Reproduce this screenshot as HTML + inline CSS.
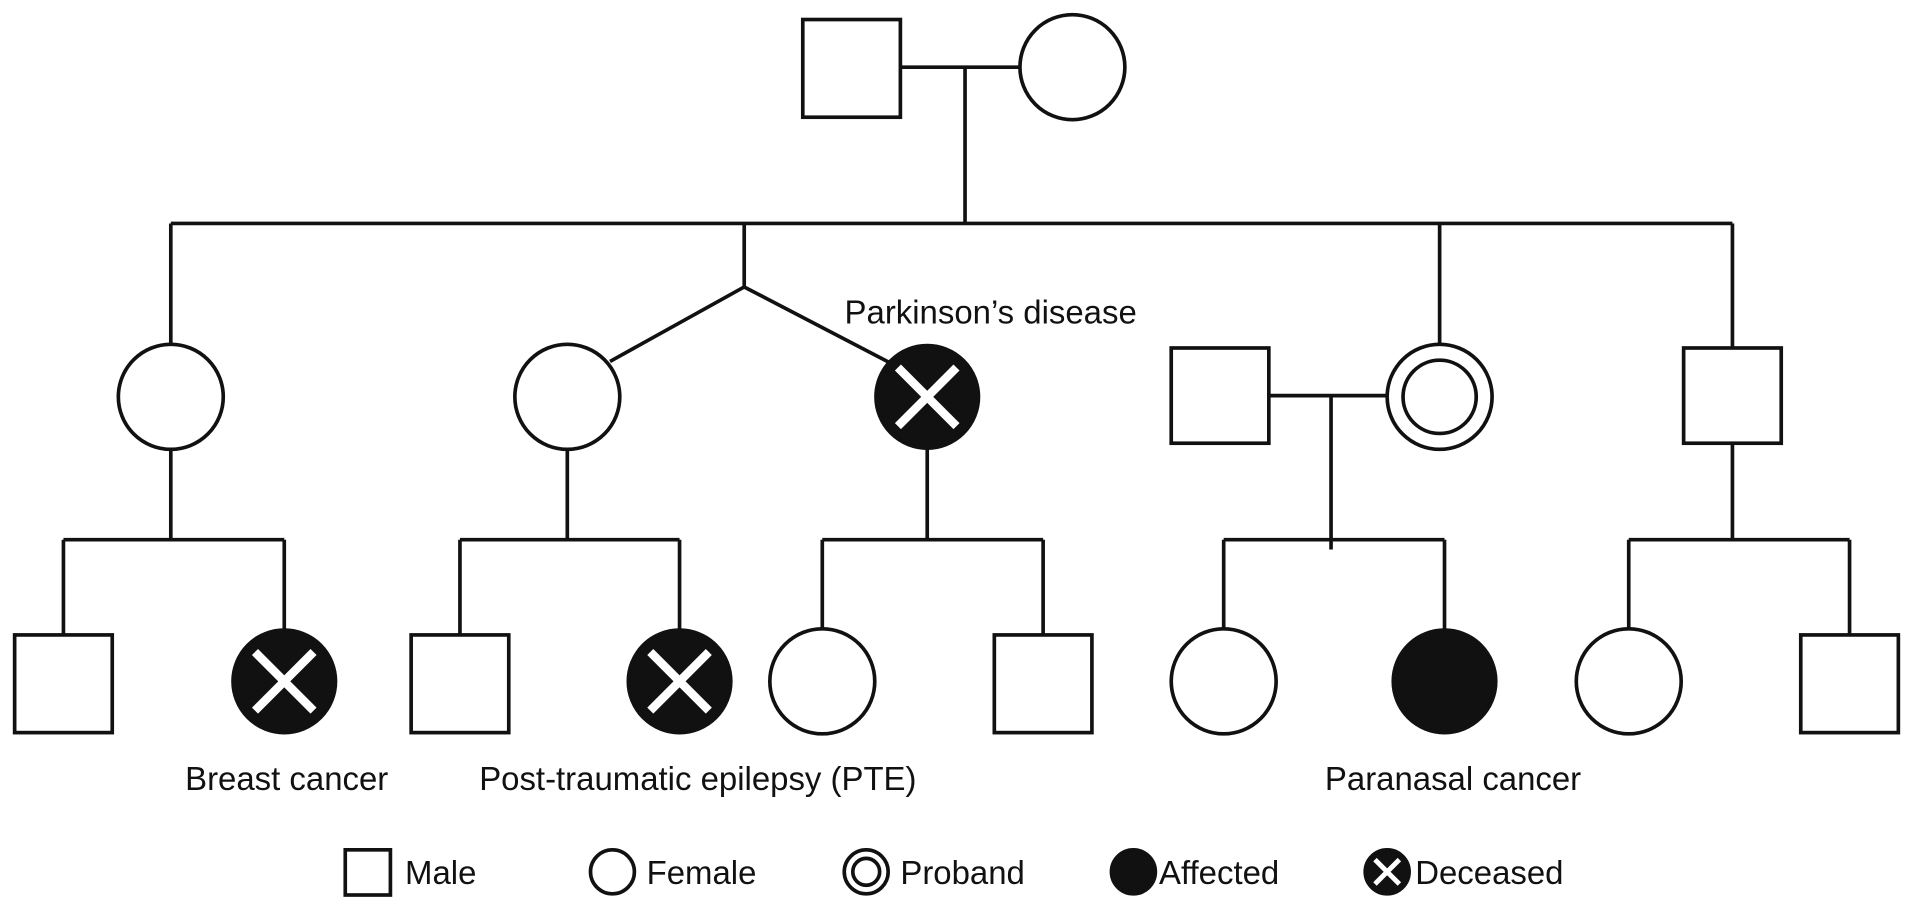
<!DOCTYPE html>
<html><head><style>html,body{margin:0;padding:0;background:#fff}svg{display:block}</style></head>
<body>
<svg width="1913" height="906" viewBox="0 0 1568 742" preserveAspectRatio="none" xmlns="http://www.w3.org/2000/svg" font-family="Liberation Sans, sans-serif" font-size="27" fill="none" stroke="#111" stroke-width="3">
<defs>
<g id="dx"><circle r="42" fill="#111"/><path d="M-24,-24L24,24M24,-24L-24,24" stroke="#fff" stroke-width="7"/></g>
</defs>
<rect x="658" y="16" width="80" height="80" fill="#fff"/>
<circle cx="879" cy="55" r="43" fill="#fff"/>
<path d="M738,55H836M791,55V183M140,183H1420M140,183V282M610,183V235L500,296M610,235L735,300M1180,183V282M1420,183V285"/>
<circle cx="140" cy="325" r="43"/>
<circle cx="465" cy="325" r="43"/>
<use href="#dx" x="760" y="325"/>
<rect x="960" y="285" width="80" height="78"/>
<circle cx="1180" cy="325" r="43"/><circle cx="1180" cy="325" r="30"/>
<rect x="1380" y="285" width="80" height="78"/>
<path d="M1040,324H1137M1091,324V450M140,368V442M465,368V442M760,368V442M1420,363V442"/>
<path d="M52,442H233M52,442V520M233,442V516M377,442H557M377,442V520M557,442V516M674,442H855M674,442V516M855,442V520M1003,442H1184M1003,442V516M1184,442V516M1335,442H1516M1335,442V516M1516,442V520"/>
<rect x="12" y="520" width="80" height="80"/>
<use href="#dx" x="233" y="558"/>
<rect x="337" y="520" width="80" height="80"/>
<use href="#dx" x="557" y="558"/>
<circle cx="674" cy="558" r="43"/>
<rect x="815" y="520" width="80" height="80"/>
<circle cx="1003" cy="558" r="43"/>
<circle cx="1184" cy="558" r="42" fill="#111"/>
<circle cx="1335" cy="558" r="43"/>
<rect x="1476" y="520" width="80" height="80"/>
<g fill="#111" stroke="none" text-anchor="middle">
<text x="812" y="265">Parkinson’s disease</text>
<text x="235" y="647">Breast cancer</text>
<text x="572" y="647">Post-traumatic epilepsy (PTE)</text>
<text x="1191" y="647">Paranasal cancer</text>
</g>
<rect x="283" y="696" width="37" height="37"/>
<circle cx="502" cy="714" r="18"/>
<circle cx="710" cy="714" r="18"/><circle cx="710" cy="714" r="11"/>
<circle cx="929" cy="714" r="18" fill="#111"/>
<circle cx="1137" cy="714" r="18" fill="#111"/>
<path d="M1127,704L1147,724M1147,704L1127,724" stroke="#fff" stroke-width="4"/>
<g fill="#111" stroke="none">
<text x="332" y="724">Male</text>
<text x="530" y="724">Female</text>
<text x="738" y="724">Proband</text>
<text x="950" y="724">Affected</text>
<text x="1160" y="724">Deceased</text>
</g>
</svg>
</body></html>
